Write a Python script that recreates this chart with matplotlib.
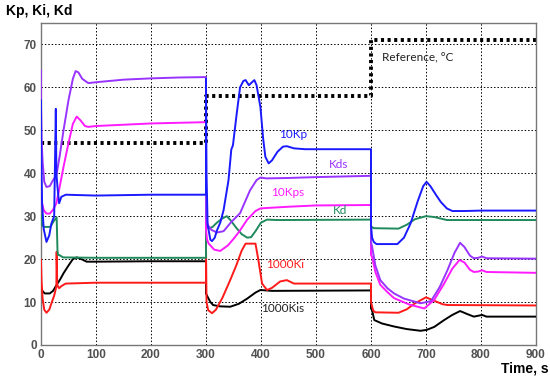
"""Recreate the Kp/Ki/Kd gain-scheduling step response chart."""
import matplotlib
matplotlib.use('Agg')
import matplotlib.pyplot as plt

# ── data ────────────────────────────────────────────────────────────
ref_t = [0, 300, 300, 600, 600, 900]
ref_v = [47, 47, 58, 58, 71, 71]

kp_t = [0, 0.5, 2, 5, 10, 15, 19, 24, 27, 28, 30, 33, 37, 45, 100, 200, 300,
        300, 301, 303, 308, 311, 316, 320, 326, 332, 341, 346, 349, 356, 362,
        368, 372, 378, 382, 388, 392, 399, 404, 408, 414, 420, 430, 440, 447,
        460, 480, 600, 600, 602, 605, 610, 648, 660, 672, 685, 695, 701, 708,
        718, 727, 738, 748, 770, 800, 900]
kp_v = [57, 45, 33, 27, 24, 25.5, 28.3, 30, 55, 40, 36.8, 33, 34.5, 35, 34.8,
        35, 35, 62, 40, 28, 24.5, 24.2, 25, 26.7, 28.5, 31.4, 38.4, 45.5, 46.5,
        54, 60, 61.5, 61.7, 60.5, 61, 61.7, 60.5, 55.4, 48, 43.8, 42.3, 43, 45,
        46.2, 46.3, 45.8, 45.6, 45.6, 28, 25, 24, 23.5, 23.5, 25, 28.3, 33.5,
        37, 38, 37, 35, 33.3, 31.8, 31.2, 31.2, 31.3, 31.3]

kds_t = [0, 0, 1, 3, 6, 10, 16, 22, 28, 34, 41, 50, 58, 63, 68, 75, 86, 100,
         150, 200, 250, 300, 300, 303, 310, 320, 332, 345, 362, 380, 392, 399,
         410, 450, 500, 600, 600, 602, 608, 617, 630, 642, 660, 690, 709, 725,
         739, 752, 762, 770, 780, 787, 795, 802, 810, 900]
kds_v = [64, 57, 48, 42.6, 38, 36.8, 37, 38.4, 39.5, 44, 50, 57, 62, 63.8,
         63.5, 62, 61, 61.2, 61.8, 62.1, 62.3, 62.4, 30, 28, 26.8, 26.2, 26.5,
         28.5, 30.7, 36, 38.4, 39, 38.8, 38.9, 39.1, 39.4, 24, 22.9, 18.5, 15.1,
         13.2, 12, 10.8, 9.7, 10.2, 13.5, 17.4, 21.5, 23.8, 22.8, 20.8, 20.2,
         20.3, 20.6, 20.2, 20.1]

kps_t = [0, 2, 5, 10, 16, 22, 28, 35, 41, 50, 58, 65, 72, 80, 86, 100, 200,
         300, 300, 302, 305, 315, 326, 340, 352, 362, 375, 390, 399, 410, 450,
         500, 600, 600, 602, 608, 617, 630, 642, 670, 697, 715, 733, 748, 761,
         770, 780, 787, 795, 802, 810, 900]
kps_v = [36, 33, 31.4, 30.6, 30.6, 31.5, 33, 37.5, 41.5, 47, 51.5, 53.2, 52.3,
         51, 50.8, 51, 51.6, 51.9, 27, 24.5, 23.6, 22.2, 21.9, 23.2, 25, 26.7,
         29.2, 31.2, 31.8, 31.9, 32.2, 32.5, 32.6, 21, 20.5, 17, 14, 12.3, 10.9,
         9.4, 8.5, 10.5, 14.3, 17.8, 19.8, 19.2, 17.5, 17, 17.1, 17.4, 17, 16.8]

kd_t = [0, 2, 5, 17, 24, 28.5, 30, 31, 34, 40, 100, 300, 300, 305, 312, 320,
        330, 338, 345, 355, 365, 375, 382, 390, 400, 411, 430, 600, 600, 605,
        650, 665, 680, 700, 715, 725, 738, 900]
kd_v = [30.2, 28, 27.5, 27.5, 29, 29.7, 22, 21, 20.9, 20.4, 20.3, 20.3, 28,
        27.1, 27.5, 28.5, 29.5, 30, 29, 27.3, 25.8, 25, 25.1, 26.5, 28.5, 29.2,
        29.1, 29.2, 27.6, 27.2, 27.1, 28, 29.3, 30, 29.8, 29.5, 29.1, 29.1]

ki_t = [0, 1, 3, 6, 10, 15, 19, 24, 28, 28.5, 29.5, 33, 37, 45, 100, 300,
        300, 301, 304, 311, 318, 330, 344, 355, 365, 372, 390, 395, 402, 411,
        420, 435, 447, 460, 600, 600, 604, 608, 650, 665, 680, 700, 715, 730,
        739, 900]
ki_v = [19.8, 15, 10.8, 8.2, 7.5, 8.2, 9.7, 11.5, 13.6, 21.7, 14, 13.2, 13.7,
        14.3, 14.5, 14.5, 23.5, 10, 8.1, 7.4, 8.2, 11, 15.1, 18.5, 22, 23.6,
        23.6, 20, 14.3, 12.8, 13.3, 14.8, 15.1, 14.3, 14.3, 10, 8, 7.6, 7.5,
        8.3, 9.7, 11.1, 10.3, 9.5, 9.3, 9.2]

kis_t = [0, 3, 7, 16, 22, 28.5, 35, 41, 50, 58, 65, 75, 83, 100, 200, 300,
         300, 303, 308, 313, 325, 344, 360, 375, 390, 399, 420, 600, 600, 602,
         606, 620, 642, 665, 690, 701, 715, 733, 748, 762, 775, 787, 795, 802,
         810, 900]
kis_v = [13.6, 12.5, 12, 12, 12.6, 14, 15.3, 16.7, 18.5, 20, 20.4, 19.9, 19.4,
         19.4, 19.5, 19.5, 12, 11.2, 10, 9.3, 9, 8.9, 9.6, 10.8, 12.2, 12.8,
         12.6, 12.7, 8.5, 8.1, 5.8, 5, 4.3, 3.7, 3.3, 3.5, 4.2, 5.8, 7, 7.9,
         7.2, 6.6, 6.8, 7, 6.6, 6.6]

x_ticks = [0, 100, 200, 300, 400, 500, 600, 700, 800, 900]
y_ticks = [0, 10, 20, 30, 40, 50, 60, 70]

# ── styles ──────────────────────────────────────────────────────────
C_KP = '#1a1aff'
C_KDS = '#9933ff'
C_KPS = '#ff1aff'
C_KD = '#1f8a5c'
C_KI = '#ff1a1a'
C_KIS = '#000000'

fig = plt.figure(figsize=(5.5, 3.77), dpi=100, facecolor='white')
ax = fig.add_axes([0.0745, 0.085, 0.9, 0.854])

ax.plot(ref_t, ref_v, color='black', lw=2.8, ls=(0, (0.8, 0.9)), zorder=2)
ax.plot(kis_t, kis_v, color=C_KIS, lw=1.4, zorder=3)
ax.plot(ki_t, ki_v, color=C_KI, lw=1.4, zorder=3)
ax.plot(kd_t, kd_v, color=C_KD, lw=1.4, zorder=3)
ax.plot(kps_t, kps_v, color=C_KPS, lw=1.4, zorder=3)
ax.plot(kds_t, kds_v, color=C_KDS, lw=1.4, zorder=3)
ax.plot(kp_t, kp_v, color=C_KP, lw=1.4, zorder=4)

# curve labels
lab = dict(family='Lato', fontsize=8.5, ha='center', va='center')
ax.text(459, 49.1, '10Kp', color=C_KP, **lab)
ax.text(541, 42.1, 'Kds', color=C_KDS, **lab)
ax.text(448, 35.6, '10Kps', color=C_KPS, **lab)
ax.text(543, 31.4, 'Kd', color=C_KD, **lab)
ax.text(444, 18.8, '1000Ki', color=C_KI, **lab)
ax.text(439, 8.6, '1000Kis', color='#222222', **lab)
ax.text(620, 66.8, 'Reference, °C', color='#222222',
        family='Lato', fontsize=8.5, ha='left', va='center')

ax.set_xlim(0, 900)
ax.set_ylim(0, 75)
ax.set_xticks(x_ticks)
ax.set_yticks(y_ticks)
ax.grid(True, color='black', ls=(0, (1.5, 2)), lw=0.7)
ax.tick_params(length=0, pad=3, labelsize=8.5, colors='#505050')
for lbl in ax.get_xticklabels() + ax.get_yticklabels():
    lbl.set_fontweight('bold')
    lbl.set_family('Liberation Sans')
for spine in ax.spines.values():
    spine.set_edgecolor('#777777')
    spine.set_linewidth(1.0)

fig.text(0.011, 0.972, 'Kp, Ki, Kd', fontsize=10, fontweight='bold',
         family='Liberation Sans', ha='left', va='center')
fig.text(0.997, 0.022, 'Time, s', fontsize=10, fontweight='bold',
         family='Liberation Sans', ha='right', va='center')

fig.savefig('out.png', dpi=100, facecolor=fig.get_facecolor())
